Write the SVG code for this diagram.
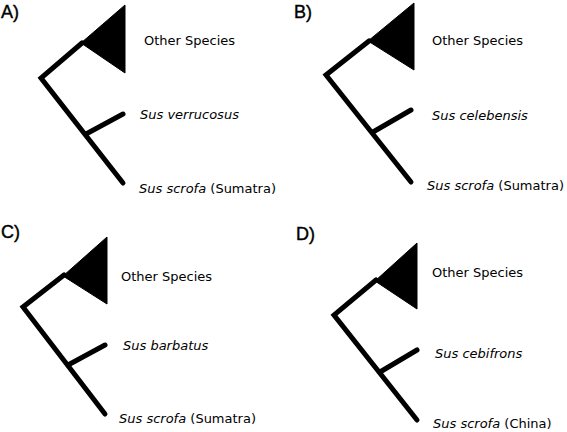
<svg xmlns="http://www.w3.org/2000/svg" width="567" height="432" viewBox="0 0 567 432">
<style>
.br{fill:none;stroke:#000;stroke-width:5;stroke-linecap:round;stroke-linejoin:miter}
.tri{fill:#000;stroke:#000;stroke-width:1}
.lab{font-family:"DejaVu Sans",sans-serif;font-size:13px;fill:#000}
.it{font-style:italic}
.pl{font-family:"Liberation Sans",Arial,sans-serif;font-size:18px;fill:#000;stroke:#000;stroke-width:0.4}
</style>
<rect width="567" height="432" fill="#fff"/>
<g id="panel-labels">
<text class="pl" x="1" y="18">A)</text>
<text class="pl" x="294" y="18">B)</text>
<text class="pl" x="1" y="238">C)</text>
<text class="pl" x="296" y="240">D)</text>
</g>
<g id="connectors">
<path class="br" d="M82,43 L41,78 L123,183"/>
<path class="br" d="M86,134 L123,114"/>
<path class="br" d="M369,41 L326,75 L411,182"/>
<path class="br" d="M373,132 L411,110"/>
<path class="br" d="M64,275 L23,307 L105,414"/>
<path class="br" d="M68,365 L105,345"/>
<path class="br" d="M376,280 L334,315 L417,420"/>
<path class="br" d="M380,372 L417,350"/>
</g>
<g id="A-other"><polygon class="tri" points="81,43 125,5 125,73"/><text class="lab" x="144" y="45">Other Species</text></g>
<g id="A-sp"><text class="lab it" x="140" y="119">Sus verrucosus</text></g>
<g id="A-scrofa"><text class="lab" x="139" y="193"><tspan class="it">Sus scrofa</tspan> (Sumatra)</text></g>
<g id="B-other"><polygon class="tri" points="368,41 414,3 414,70"/><text class="lab" x="432" y="45">Other Species</text></g>
<g id="B-sp"><text class="lab it" x="432" y="120">Sus celebensis</text></g>
<g id="B-scrofa"><text class="lab" x="427" y="190"><tspan class="it">Sus scrofa</tspan> (Sumatra)</text></g>
<g id="C-other"><polygon class="tri" points="63,276 107,237 107,304"/><text class="lab" x="121" y="281">Other Species</text></g>
<g id="C-sp"><text class="lab it" x="123" y="350">Sus barbatus</text></g>
<g id="C-scrofa"><text class="lab" x="119" y="423"><tspan class="it">Sus scrofa</tspan> (Sumatra)</text></g>
<g id="D-other"><polygon class="tri" points="375,281 417,243 417,309"/><text class="lab" x="432" y="277">Other Species</text></g>
<g id="D-sp"><text class="lab it" x="435" y="358">Sus cebifrons</text></g>
<g id="D-scrofa"><text class="lab" x="433" y="428"><tspan class="it">Sus scrofa</tspan> (China)</text></g>
</svg>
